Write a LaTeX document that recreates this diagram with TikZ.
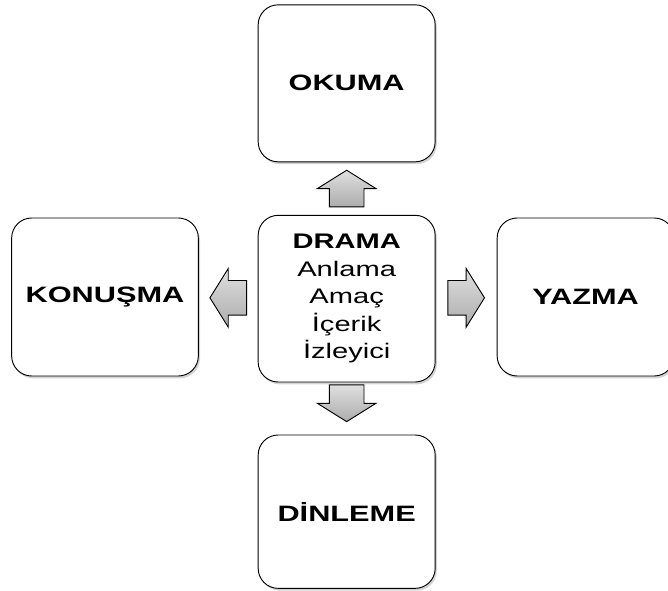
\documentclass[tikz,border=0pt]{standalone}
\usepackage{fontspec}
\setmainfont{Liberation Sans}[FakeStretch=1.38]
\usepackage{tikz}
\usetikzlibrary{shadows,calc}
\tikzset{
  skill/.style  ={draw,thick,rounded corners=0.6cm,fill=white,minimum width=5.31cm,
                  minimum height=4.71cm,font=\fontsize{19}{23}\selectfont\bfseries,
                  drop shadow={opacity=0.35,shadow xshift=0.05cm,shadow yshift=-0.07cm}},
  core/.style   ={skill,minimum height=5.0cm,align=center,font=\fontsize{18}{23.5}\selectfont},
  flowfill/.style={draw,thick,line join=miter,top color=gray!25,bottom color=gray!65},
  flowarrow/.pic={
    \draw[flowfill] (-0.55,-0.52) -- (0,-0.52) -- (0,-0.88) -- (0.55,0)
      -- (0,0.88) -- (0,0.52) -- (-0.55,0.52) -- cycle;
  },
}

\begin{document}
\begin{tikzpicture}
  \useasboundingbox (0,0) rectangle (20.04,-17.73);
  % centre box and the four skills round it
  \node[core]  (drama)   at (10.40,-8.96) {\textbf{DRAMA}\\Anlama\\Amaç\\İçerik\\İzleyici};
  \node[skill] (okuma)   at (10.40,-2.50) {OKUMA};
  \node[skill,minimum width=5.6cm,minimum height=4.74cm] (konusma) at (3.15,-8.91) {KONUŞMA};
  \node[skill,minimum height=4.74cm] (yazma)   at (17.57,-8.91) {YAZMA};
  \node[skill,minimum height=4.6cm]  (dinleme) at (10.40,-15.35) {DİNLEME};
  % block arrows halfway between them
  \coordinate (toup)    at ($(drama.north)!0.5!(okuma.south)$);
  \coordinate (toleft)  at ($(drama.west)!0.5!(konusma.east)$);
  \coordinate (toright) at ($(drama.east)!0.5!(yazma.west)$);
  \coordinate (todown)  at ($(drama.south)!0.4!(dinleme.north)$);
  \pic[rotate=90]  at (toup)    {flowarrow};
  \pic[rotate=180] at (toleft)  {flowarrow};
  \pic             at (toright) {flowarrow};
  \pic[rotate=-90] at (todown)  {flowarrow};
\end{tikzpicture}
\end{document}
